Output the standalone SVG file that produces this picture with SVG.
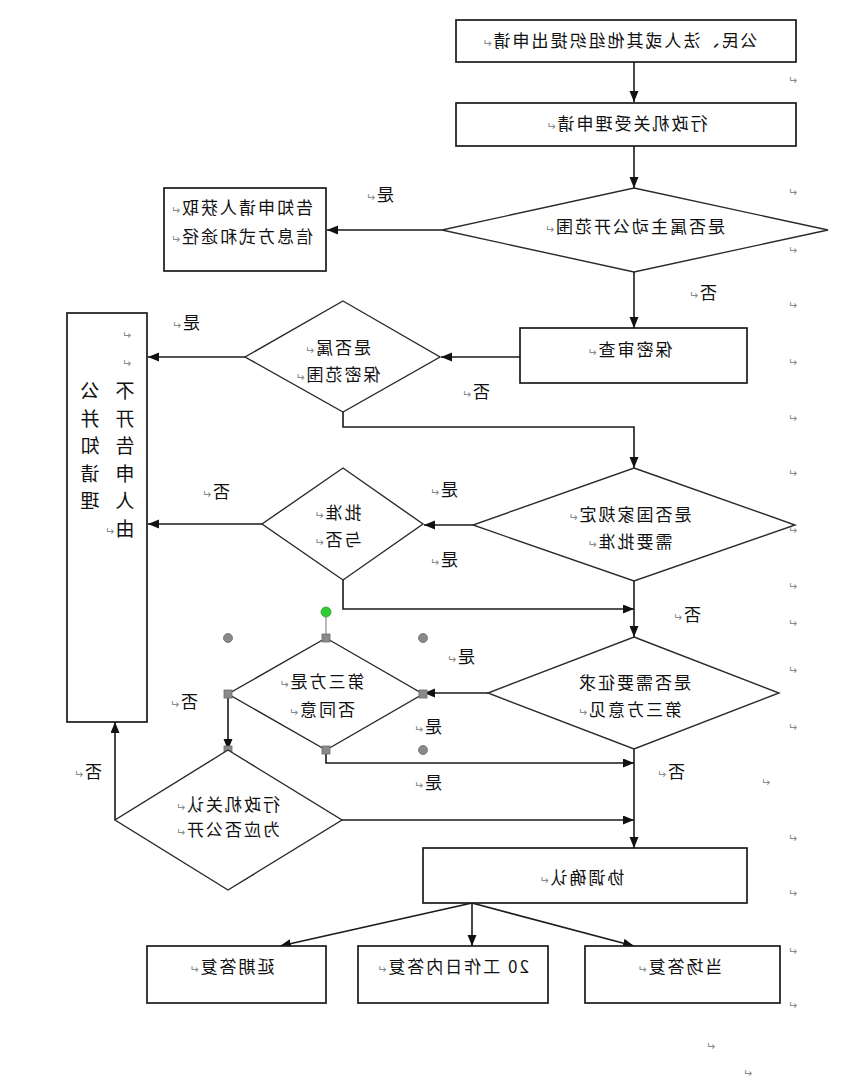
<svg xmlns="http://www.w3.org/2000/svg" width="845" height="1080" viewBox="0 0 845 1080">
<style>
.box{fill:#fff;stroke:#1a1a1a;stroke-width:1.7}
.dia{fill:#fff;stroke:#2a2a2a;stroke-width:1.4}
.ln{fill:none;stroke:#1a1a1a;stroke-width:1.6}
.t{font-family:"Noto Sans CJK SC","Liberation Sans",sans-serif;font-size:17px;letter-spacing:2px;fill:#111;text-anchor:middle}
.tl{font-family:"Noto Sans CJK SC","Liberation Sans",sans-serif;font-size:17px;letter-spacing:2px;fill:#111;text-anchor:start}
.v{font-family:"Noto Sans CJK SC",sans-serif;font-size:19px;fill:#111;text-anchor:middle}
.pm{font-family:"DejaVu Sans",sans-serif;font-size:11px;fill:#888;letter-spacing:0}
.h{fill:#8a8a8a;stroke:#6a6a6a;stroke-width:0.8}
</style>
<defs>
<marker id="ar" markerUnits="userSpaceOnUse" markerWidth="12" markerHeight="10" refX="11" refY="4.5" orient="auto">
<path d="M0,0 L11,4.5 L0,9 z" fill="#111"/>
</marker>
</defs>
<rect width="845" height="1080" fill="#fff"/>

<g id="connectors">
<line class="ln" x1="634" y1="62" x2="634" y2="102" marker-end="url(#ar)"/>
<line class="ln" x1="634" y1="146" x2="634" y2="188" marker-end="url(#ar)"/>
<line class="ln" x1="442" y1="230" x2="327" y2="230" marker-end="url(#ar)"/>
<line class="ln" x1="634" y1="272" x2="634" y2="328" marker-end="url(#ar)"/>
<line class="ln" x1="520" y1="357" x2="441" y2="357" marker-end="url(#ar)"/>
<line class="ln" x1="245" y1="357" x2="148" y2="357" marker-end="url(#ar)"/>
<polyline class="ln" points="343,412 343,427 634,427 634,468" marker-end="url(#ar)"/>
<line class="ln" x1="473" y1="525" x2="424" y2="525" marker-end="url(#ar)"/>
<line class="ln" x1="262" y1="524" x2="148" y2="524" marker-end="url(#ar)"/>
<polyline class="ln" points="343,580 343,609 634,609" marker-end="url(#ar)"/>
<line class="ln" x1="634" y1="581" x2="634" y2="637" marker-end="url(#ar)"/>
<line class="ln" x1="488" y1="693" x2="424" y2="693" marker-end="url(#ar)"/>
<line class="ln" x1="228" y1="694" x2="228" y2="750" marker-end="url(#ar)"/>
<polyline class="ln" points="326,750 326,763 634,763" marker-end="url(#ar)"/>
<line class="ln" x1="115" y1="820" x2="115" y2="722" marker-end="url(#ar)"/>
<line class="ln" x1="342" y1="820" x2="634" y2="820" marker-end="url(#ar)"/>
<line class="ln" x1="634" y1="749" x2="634" y2="848" marker-end="url(#ar)"/>
<line class="ln" x1="472" y1="903" x2="280" y2="946" marker-end="url(#ar)"/>
<line class="ln" x1="472" y1="903" x2="472" y2="946" marker-end="url(#ar)"/>
<line class="ln" x1="472" y1="903" x2="634" y2="946" marker-end="url(#ar)"/>
</g>

<g id="n-apply"><rect class="box" x="456" y="20" width="340" height="42"/></g>
<g id="n-accept"><rect class="box" x="456" y="103" width="340" height="43"/></g>
<g id="n-active"><polygon class="dia" points="634,188 828,230 634,272 442,230"/></g>
<g id="n-inform"><rect class="box" x="164" y="188" width="162" height="83"/></g>
<g id="n-secret"><rect class="box" x="520" y="328" width="227" height="55"/></g>
<g id="n-secretq"><polygon class="dia" points="343,301 440,357 343,412 245,357"/></g>
<g id="n-refuse"><rect class="box" x="67" y="313" width="80" height="409"/></g>
<g id="n-state"><polygon class="dia" points="634,468 795,525 634,581 473,525"/></g>
<g id="n-approve"><polygon class="dia" points="343,468 423,524 343,580 262,524"/></g>
<g id="n-third"><polygon class="dia" points="634,637 779,693 634,749 488,693"/></g>
<g id="n-agree"><polygon class="dia" points="326,638 423,694 326,750 228,694"/>
<line x1="326" y1="612" x2="326" y2="638" stroke="#777" stroke-width="1"/>
<circle cx="326" cy="612" r="5" fill="#2ecc2e" stroke="#3a9a3a" stroke-width="0.8"/>
<circle class="h" cx="228" cy="638" r="4.5"/>
<circle class="h" cx="423" cy="638" r="4.5"/>
<circle class="h" cx="423" cy="750" r="4.5"/>
<rect class="h" x="322" y="634" width="8" height="8"/>
<rect class="h" x="419" y="690" width="8" height="8"/>
<rect class="h" x="322" y="746" width="8" height="8"/>
<rect class="h" x="224" y="690" width="8" height="8"/>
<rect class="h" x="224" y="746" width="8" height="8"/>
</g>
<g id="n-admin"><polygon class="dia" points="228,750 342,820 228,890 115,820"/></g>
<g id="n-coord"><rect class="box" x="423" y="848" width="324" height="55"/></g>
<g id="n-delay"><rect class="box" x="147" y="946" width="179" height="57"/></g>
<g id="n-20days"><rect class="box" x="358" y="946" width="190" height="57"/></g>
<g id="n-spot"><rect class="box" x="585" y="946" width="195" height="57"/></g>

<g id="texts" transform="matrix(-1 0 0 1 845 0)">
<text class="t" x="225" y="47">公民、法人或其他组织提出申请<tspan class="pm">↵</tspan></text>
<text class="t" x="218" y="130">行政机关受理申请<tspan class="pm">↵</tspan></text>
<text class="t" x="210" y="233">是否属主动公开范围<tspan class="pm">↵</tspan></text>
<text class="tl" x="532" y="214">告知申请人获取<tspan class="pm">↵</tspan></text>
<text class="tl" x="532" y="243">信息方式和途径<tspan class="pm">↵</tspan></text>
<text class="t" x="215" y="356">保密审查<tspan class="pm">↵</tspan></text>
<text class="t" x="507" y="354">是否属<tspan class="pm">↵</tspan></text>
<text class="t" x="507" y="381">保密范围<tspan class="pm">↵</tspan></text>
<text class="t" x="215" y="521">是否国家规定<tspan class="pm">↵</tspan></text>
<text class="t" x="215" y="548">需要批准<tspan class="pm">↵</tspan></text>
<text class="t" x="507" y="519">批准<tspan class="pm">↵</tspan></text>
<text class="t" x="507" y="546">与否<tspan class="pm">↵</tspan></text>
<text class="t" x="211" y="689">是否需要征求</text>
<text class="t" x="215" y="716">第三方意见<tspan class="pm">↵</tspan></text>
<text class="t" x="523" y="688">第三方是<tspan class="pm">↵</tspan></text>
<text class="t" x="523" y="716">否同意<tspan class="pm">↵</tspan></text>
<text class="t" x="617" y="811">行政机关认<tspan class="pm">↵</tspan></text>
<text class="t" x="617" y="836">为应否公开<tspan class="pm">↵</tspan></text>
<text class="t" x="263" y="884">协调确认<tspan class="pm">↵</tspan></text>
<text class="t" x="613" y="973">延期答复<tspan class="pm">↵</tspan></text>
<text class="t" x="392" y="973">20 工作日内答复<tspan class="pm">↵</tspan></text>
<text class="t" x="165" y="973">当场答复<tspan class="pm">↵</tspan></text>

<text class="pm" x="714" y="339">↵</text>
<text class="pm" x="714" y="367">↵</text>
<text class="v" x="720" y="398">不</text><text class="v" x="755" y="398">公</text>
<text class="v" x="720" y="425.5">开</text><text class="v" x="755" y="425.5">并</text>
<text class="v" x="720" y="453">告</text><text class="v" x="755" y="453">知</text>
<text class="v" x="720" y="480.5">申</text><text class="v" x="755" y="480.5">请</text>
<text class="v" x="720" y="508">人</text><text class="v" x="755" y="508">理</text>
<text class="v" x="720" y="535.5">由</text><text class="pm" x="731" y="535">↵</text>

<text class="t" x="465" y="201">是<tspan class="pm">↵</tspan></text>
<text class="t" x="142" y="299">否<tspan class="pm">↵</tspan></text>
<text class="t" x="369" y="398">否<tspan class="pm">↵</tspan></text>
<text class="t" x="659" y="329">是<tspan class="pm">↵</tspan></text>
<text class="t" x="629" y="498">否<tspan class="pm">↵</tspan></text>
<text class="t" x="401" y="496">是<tspan class="pm">↵</tspan></text>
<text class="t" x="401" y="566">是<tspan class="pm">↵</tspan></text>
<text class="t" x="158" y="621">否<tspan class="pm">↵</tspan></text>
<text class="t" x="384" y="663">是<tspan class="pm">↵</tspan></text>
<text class="t" x="417" y="733">是<tspan class="pm">↵</tspan></text>
<text class="t" x="417" y="789">是<tspan class="pm">↵</tspan></text>
<text class="t" x="661" y="708">否<tspan class="pm">↵</tspan></text>
<text class="t" x="757" y="778">否<tspan class="pm">↵</tspan></text>
<text class="t" x="174" y="778">否<tspan class="pm">↵</tspan></text>

<text class="pm" x="48" y="84">↵</text>
<text class="pm" x="48" y="196">↵</text>
<text class="pm" x="48" y="254">↵</text>
<text class="pm" x="48" y="309">↵</text>
<text class="pm" x="48" y="366">↵</text>
<text class="pm" x="48" y="422">↵</text>
<text class="pm" x="48" y="477">↵</text>
<text class="pm" x="48" y="534">↵</text>
<text class="pm" x="48" y="590">↵</text>
<text class="pm" x="48" y="627">↵</text>
<text class="pm" x="48" y="674">↵</text>
<text class="pm" x="48" y="731">↵</text>
<text class="pm" x="75" y="786">↵</text>
<text class="pm" x="48" y="842">↵</text>
<text class="pm" x="48" y="897">↵</text>
<text class="pm" x="48" y="955">↵</text>
<text class="pm" x="48" y="1009">↵</text>
<text class="pm" x="130" y="1050">↵</text>
<text class="pm" x="93" y="1077">↵</text>
</g>
</svg>
